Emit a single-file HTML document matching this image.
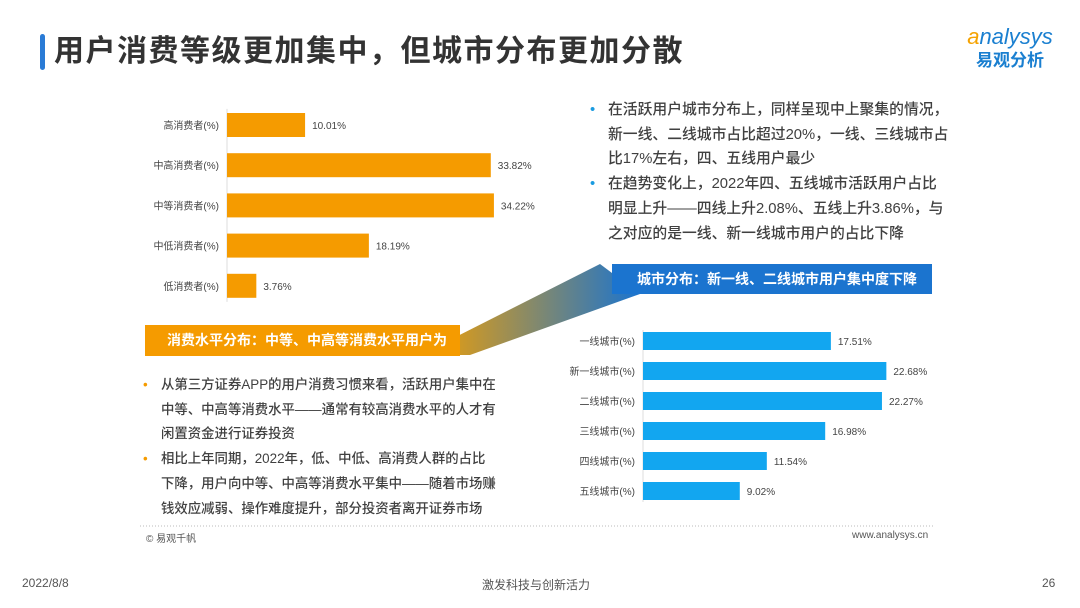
<!DOCTYPE html>
<html><head><meta charset="utf-8">
<style>
body{margin:0;width:1080px;height:608px;background:#fff;position:relative;overflow:hidden;font-family:"Liberation Sans","Noto Sans CJK SC",sans-serif;color:#444}
.abs{position:absolute}
.txt{line-height:24.7px;color:#404040;font-weight:500;white-space:nowrap}
.txt p{margin:0;padding-left:18px;position:relative}
.txt p:before{content:"•";position:absolute;left:0;top:0}
.o p:before{color:#f59b00}
.b p:before{color:#1a9be0}
</style></head>
<body>
<div class="abs" style="left:40px;top:34px;width:5px;height:36px;background:#2a7bd6;border-radius:3px"></div>
<div class="abs" style="left:54px;top:32px;font-size:30px;font-weight:bold;color:#333;line-height:40px;letter-spacing:1.5px">用户消费等级更加集中，但城市分布更加分散</div>
<div class="abs" style="left:955px;top:24px;text-align:center;width:110px">
<div style="font-size:22px;font-style:italic;color:#1a7fd0;line-height:26px"><span style="color:#f5a200">a</span>nalysys</div>
<div style="font-size:17px;font-weight:bold;color:#1a7fd0;line-height:22px">易观分析</div></div>

<svg class="abs" style="left:0;top:0" width="1080" height="608">
<defs><linearGradient id="g" x1="0" y1="0" x2="1" y2="0"><stop offset="0" stop-color="#f5a000"/><stop offset="1" stop-color="#1b74cf"/></linearGradient></defs>
<polygon points="420,355 470,355 640,294 600,264" fill="url(#g)"/>
<g id="c1"></g><g id="c2"></g>
<line x1="140" y1="526" x2="935" y2="526" stroke="#bbb" stroke-dasharray="1,2"/>
</svg>

<div class="abs" style="left:145px;top:325px;width:315px;height:31px;background:#f59b00;color:#fff;font-size:14px;font-weight:bold;line-height:31px;padding-left:22px;box-sizing:border-box">消费水平分布：中等、中高等消费水平用户为主</div>
<div class="abs" style="left:612px;top:264px;width:320px;height:30px;background:#1b74cf;color:#fff;font-size:14px;font-weight:bold;line-height:30px;padding-left:25px;box-sizing:border-box">城市分布：新一线、二线城市用户集中度下降</div>

<div class="abs txt b" style="left:590px;top:98px;font-size:14.8px">
<p>在活跃用户城市分布上，同样呈现中上聚集的情况，<br>新一线、二线城市占比超过20%，一线、三线城市占<br>比17%左右，四、五线用户最少</p>
<p>在趋势变化上，2022年四、五线城市活跃用户占比<br>明显上升——四线上升2.08%、五线上升3.86%，与<br>之对应的是一线、新一线城市用户的占比下降</p></div>
<div class="abs txt o" style="left:143px;top:373px;font-size:13.4px">
<p>从第三方证券APP的用户消费习惯来看，活跃用户集中在<br>中等、中高等消费水平——通常有较高消费水平的人才有<br>闲置资金进行证券投资</p>
<p>相比上年同期，2022年，低、中低、高消费人群的占比<br>下降，用户向中等、中高等消费水平集中——随着市场赚<br>钱效应减弱、操作难度提升，部分投资者离开证券市场</p></div>

<div class="abs" style="left:146px;top:530px;font-size:10px;color:#555">© 易观千帆</div>
<div class="abs" style="left:852px;top:530px;font-size:10px;color:#555">www.analysys.cn</div>
<div class="abs" style="left:22px;top:576px;font-size:12px;color:#555">2022/8/8</div>
<div class="abs" style="left:482px;top:576px;font-size:12px;color:#555">激发科技与创新活力</div>
<div class="abs" style="left:1042px;top:576px;font-size:12px;color:#555">26</div>

<script>
const consumptionCats=["高消费者(%)","中高消费者(%)","中等消费者(%)","中低消费者(%)","低消费者(%)"];
const consumptionVals=[10.01,33.82,34.22,18.19,3.76];
const cityCats=["一线城市(%)","新一线城市(%)","二线城市(%)","三线城市(%)","四线城市(%)","五线城市(%)"];
const cityVals=[17.51,22.68,22.27,16.98,11.54,9.02];
const NS="http://www.w3.org/2000/svg";
function mk(t,a,p){const e=document.createElementNS(NS,t);for(const k in a)e.setAttribute(k,a[k]);p.appendChild(e);return e;}
function draw(g,cats,vals,x0,y0,step,bh,scale,color,name){
 const gg=document.getElementById(g);
 const ax=mk("line",{x1:x0,y1:y0-step/2+4,x2:x0,y2:y0+step*(cats.length-0.5)-4,stroke:"#ddd"},gg);
 
 
 cats.forEach((c,i)=>{
  const y=y0+i*step;const w=vals[i]*scale;
  const r=mk("rect",{x:x0,y:y-bh/2,width:w,height:bh,fill:color},gg);
  
  
  const l=mk("text",{x:x0-8,y:y+4,"text-anchor":"end","font-size":"10","fill":"#444"},gg);l.textContent=c;
  
  
  const v=mk("text",{x:x0+w+7,y:y+4,"font-size":"10","fill":"#444"},gg);v.textContent=vals[i].toFixed(2)+"%";
  
  
 });
}
draw("c1",consumptionCats,consumptionVals,227,125,40.2,24,7.8,"#f59b00","consumption");
draw("c2",cityCats,cityVals,643,341,30,18,10.73,"#12a6f0","city");
</script>
</body></html>
